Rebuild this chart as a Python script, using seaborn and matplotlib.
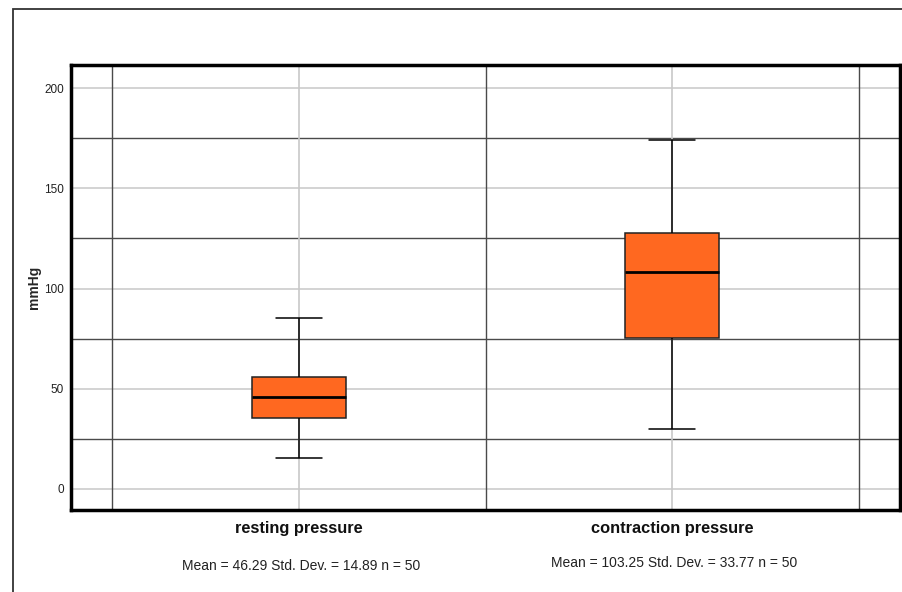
import matplotlib
matplotlib.use("Agg")
import matplotlib.pyplot as plt
from matplotlib.patches import Rectangle
import matplotlib.transforms as mtransforms
import seaborn as sns
import pandas as pd
import numpy as np

# ---- data ----
categories = ["resting pressure", "contraction pressure"]
whisker_low = [15.3, 30.0]
q1 = [35.3, 75.3]
median = [45.7, 108.0]
q3 = [55.8, 127.7]
whisker_high = [85.3, 174.0]
means = ["46.29", "103.25"]
std_devs = ["14.89", "33.77"]
ns = [50, 50]
y_ticks = [0, 50, 100, 150, 200]
y_minor = [25, 75, 125, 175]

rows = []
for c, a, b, m, d, e in zip(categories, whisker_low, q1, median, q3, whisker_high):
    for v in (a, b, m, d, e):
        rows.append({"variable": c, "mmHg": v})
df = pd.DataFrame(rows)

sns.set_theme(style="white")
plt.rcParams["font.family"] = ["Liberation Sans", "DejaVu Sans"]

W, H = 902, 592
fig = plt.figure(figsize=(W / 100, H / 100), dpi=100)
ax = fig.add_axes([71 / W, 1 - 510 / H, (900 - 71) / W, (510 - 65) / H])

# grid lines
for v in y_ticks:
    ax.axhline(v, color="#cccccc", lw=1.2, zorder=0)
for v in y_minor:
    ax.axhline(v, color="#4a4a4a", lw=1.0, zorder=0)
for i in range(len(categories)):
    ax.axvline(i, color="#c8c8c8", lw=1.2, zorder=0)
for b in np.arange(-0.5, len(categories), 1.0):
    ax.axvline(b, color="#4a4a4a", lw=1.0, zorder=0)

sns.boxplot(data=df, x="variable", y="mmHg", order=categories, ax=ax,
            width=0.25, whis=np.inf, color="#FF6820", saturation=1,
            linecolor="black", linewidth=1.1,
            medianprops=dict(color="black", lw=2.0),
            boxprops=dict(edgecolor="#222222"),
            zorder=3)

ax.set_xlim(-0.611, 1.611)
ax.set_ylim(-10.5, 211.5)
ax.set_yticks(y_ticks)
ax.set_yticklabels([str(v) for v in y_ticks], fontsize=8.5, color="#222222")
ax.set_xticks(range(len(categories)))
ax.set_xticklabels(categories, fontsize=11.8, fontweight="bold", color="#111111")
ax.tick_params(axis="y", length=0, pad=5)
ax.tick_params(axis="x", length=0, pad=8)
ax.set_xlabel("")
ax.set_ylabel("mmHg", fontsize=10, fontweight="bold", labelpad=2.5)
for s in ax.spines.values():
    s.set_visible(True)
    s.set_color("black")
    s.set_linewidth(2.5)
ax.grid(False)

# caption per category
trans = mtransforms.blended_transform_factory(ax.transData, fig.transFigure)
cap_y = [566, 563]
for i, (m, sd, n) in enumerate(zip(means, std_devs, ns)):
    ax.text(i + 0.005, 1 - cap_y[i] / H, f"Mean = {m} Std. Dev. = {sd} n = {n}",
            transform=trans, ha="center", va="center", fontsize=10, color="#222222")

# outer frame
fig.patches.append(Rectangle((13 / W, -0.1), 1.2, 1 - 9 / H + 0.1,
                             transform=fig.transFigure, fill=False,
                             edgecolor="#333333", lw=1.3, zorder=0))

fig.savefig("out.png", dpi=100)
